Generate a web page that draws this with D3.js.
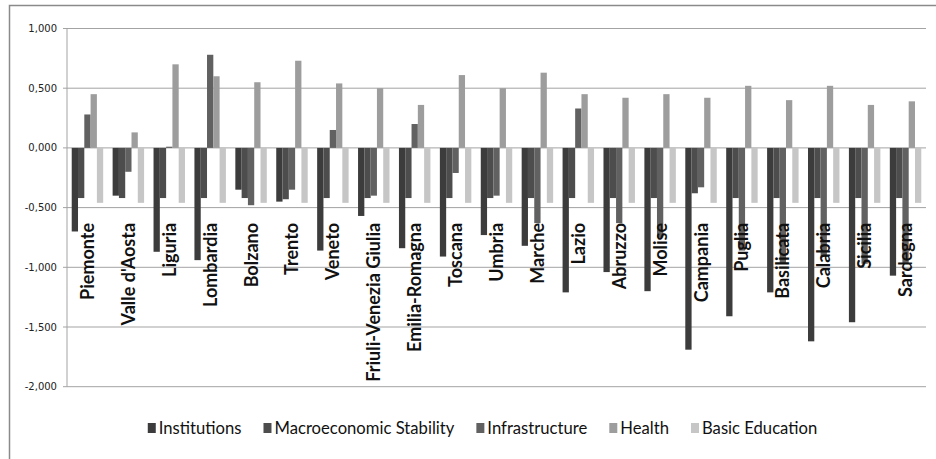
<!DOCTYPE html>
<html>
<head>
<meta charset="utf-8">
<script src="https://cdn.jsdelivr.net/npm/d3@7"></script>
<style>
  html, body { margin: 0; padding: 0; background: #fff; }
  svg { display: block; }
</style>
</head>
<body>
<svg id="chart" width="936" height="459"></svg>
<script>
const regions = ["Piemonte","Valle d'Aosta","Liguria","Lombardia","Bolzano","Trento","Veneto","Friuli-Venezia Giulia","Emilia-Romagna","Toscana","Umbria","Marche","Lazio","Abruzzo","Molise","Campania","Puglia","Basilicata","Calabria","Sicilia","Sardegna"];
const seriesNames = ["Institutions","Macroeconomic Stability","Infrastructure","Health","Basic Education"];
const institutions = [-0.70,-0.40,-0.87,-0.94,-0.35,-0.45,-0.86,-0.57,-0.84,-0.91,-0.73,-0.82,-1.21,-1.04,-1.20,-1.69,-1.41,-1.21,-1.62,-1.46,-1.07];
const macroStability = [-0.42,-0.42,-0.42,-0.42,-0.42,-0.43,-0.42,-0.42,-0.42,-0.42,-0.42,-0.42,-0.42,-0.42,-0.42,-0.38,-0.42,-0.42,-0.42,-0.42,-0.42];
const infrastructure = [0.28,-0.20,0.01,0.78,-0.48,-0.35,0.15,-0.40,0.20,-0.21,-0.40,-0.63,0.33,-0.63,-0.75,-0.33,-0.86,-0.97,-0.91,-0.97,-0.97];
const health = [0.45,0.13,0.70,0.60,0.55,0.73,0.54,0.50,0.36,0.61,0.50,0.63,0.45,0.42,0.45,0.42,0.52,0.40,0.52,0.36,0.39];
const basicEducation = [-0.46,-0.46,-0.46,-0.46,-0.46,-0.46,-0.46,-0.46,-0.46,-0.46,-0.46,-0.46,-0.46,-0.46,-0.46,-0.46,-0.46,-0.46,-0.46,-0.46,-0.46];
const yTicks = [1, 0.5, 0, -0.5, -1, -1.5, -2];

const seriesValues = [institutions, macroStability, infrastructure, health, basicEducation];
const colors = ["#3c3c3c","#4d4d4d","#616161","#9d9d9d","#c6c6c6"];

const svg = d3.select("#chart");

// outer chart border
svg.append("rect").attr("x",9.5).attr("y",5.5).attr("width",940).attr("height",470)
  .attr("fill","none").attr("stroke","#8a8a8a").attr("stroke-width",1.5);

const plot = {left:67, right:926, top:28.5, bottom:386.7};
const y = d3.scaleLinear().domain([-2,1]).range([plot.bottom, plot.top]);
const gapRatio = 1.5/6.5;
const x0 = d3.scaleBand().domain(regions).range([plot.left, plot.right])
  .paddingInner(gapRatio).paddingOuter(gapRatio/2);
const x1 = d3.scaleBand().domain(seriesNames).range([0, x0.bandwidth()]);

// gridlines
svg.append("g").selectAll("line").data(yTicks).join("line")
  .attr("x1", plot.left - 4).attr("x2", plot.right)
  .attr("y1", d => y(d)).attr("y2", d => y(d))
  .attr("stroke","#a3a3a3").attr("stroke-width",1);

// y axis line
svg.append("line").attr("x1",plot.left).attr("x2",plot.left)
  .attr("y1",plot.top).attr("y2",plot.bottom).attr("stroke","#a3a3a3").attr("stroke-width",1);

// y tick labels
const fmt = v => d3.format(".3f")(v).replace(".", ",").replace("−","-");
svg.append("g").selectAll("text").data(yTicks).join("text")
  .attr("x", 57).attr("y", d => y(d)).attr("dy","0.35em")
  .attr("text-anchor","end")
  .attr("font-family","DejaVu Sans, Verdana, sans-serif").attr("font-size",10)
  .attr("fill","#222")
  .text(d => fmt(d));

// bars
const groups = svg.append("g").selectAll("g").data(regions).join("g")
  .attr("transform", d => `translate(${x0(d)},0)`);
groups.selectAll("rect").data((r,i) => seriesNames.map((s,k) => ({s, v: seriesValues[k][i], k})))
  .join("rect")
  .attr("x", d => x1(d.s))
  .attr("width", x1.bandwidth())
  .attr("y", d => y(Math.max(0,d.v)))
  .attr("height", d => Math.abs(y(d.v) - y(0)))
  .attr("fill", d => colors[d.k]);

// category labels (rotated)
const labelY = y(0) + 75;
svg.append("g").selectAll("text").data(regions).join("text")
  .attr("transform", d => `translate(${x0(d) + x0.bandwidth()/2},${labelY}) rotate(-90)`)
  .attr("text-anchor","end").attr("dy","0.36em")
  .attr("font-family","Lato, 'Liberation Sans', sans-serif").attr("font-weight","bold")
  .attr("font-size",18).attr("fill","#111")
  .text(d => d);

// legend
const leg = svg.append("g");
const legY = 428;
const items = leg.selectAll("g").data(seriesNames).join("g");
items.append("rect").attr("width",8).attr("height",10).attr("y",legY-5)
  .attr("fill",(d,i)=>colors[i]);
const texts = items.append("text").attr("y",legY).attr("dy","0.36em")
  .attr("font-family","Lato, 'Liberation Sans', sans-serif").attr("font-size",18)
  .attr("fill","#111").text(d=>d);
// condensed look: horizontal scale to mimic the narrow legend font
const targetMacro = 180;
const macroW = texts.filter(d => d === "Macroeconomic Stability").node().getComputedTextLength();
const sx = targetMacro / macroW;
texts.attr("transform", `scale(${sx},1)`);
const widths = texts.nodes().map(n => n.getComputedTextLength()*sx);
const gap = 22;
const itemW = widths.map(w => 8 + 3 + w);
const total = d3.sum(itemW) + gap*(itemW.length-1);
let cx = 482.5 - total/2;
items.each(function(d,i){
  const g = d3.select(this);
  g.attr("transform", `translate(${cx},0)`);
  g.select("text").attr("x", (8+3)/sx);
  cx += itemW[i] + gap;
});
</script>
</body>
</html>
